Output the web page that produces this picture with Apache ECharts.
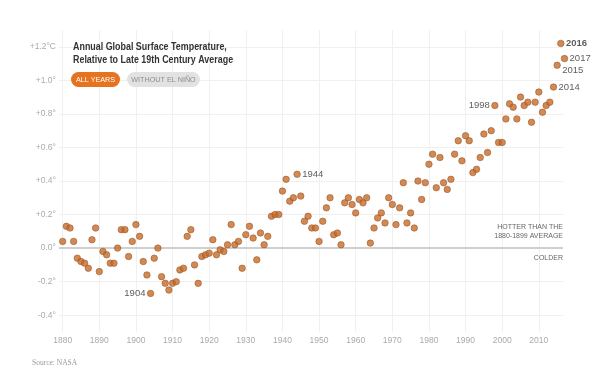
<!DOCTYPE html>
<html>
<head>
<meta charset="utf-8">
<script src="https://cdn.jsdelivr.net/npm/echarts@6/dist/echarts.min.js"></script>
<style>
  html, body { margin: 0; padding: 0; background: #fff; }
  #chart { width: 599px; height: 375px; }
</style>
</head>
<body>
<div id="chart"></div>
<script>
// years 1880..2017, anomaly vs 1880-1899 average
const startYear = 1880;
const anomalies = [
  0.04, 0.13, 0.12, 0.04, -0.06, -0.08, -0.09, -0.12, 0.05, 0.12,
  -0.14, -0.02, -0.04, -0.09, -0.09, 0.00, 0.11, 0.11, -0.05, 0.04,
  0.14, 0.07, -0.08, -0.16, -0.27, -0.06, 0.00, -0.17, -0.21, -0.25,
  -0.21, -0.20, -0.13, -0.12, 0.07, 0.11, -0.10, -0.21, -0.05, -0.04,
  -0.03, 0.05, -0.04, -0.01, -0.02, 0.02, 0.14, 0.02, 0.04, -0.12,
  0.08, 0.13, 0.06, -0.07, 0.09, 0.02, 0.07, 0.19, 0.20, 0.20,
  0.34, 0.41, 0.28, 0.30, 0.44, 0.31, 0.16, 0.19, 0.12, 0.12,
  0.04, 0.16, 0.24, 0.30, 0.08, 0.09, 0.02, 0.27, 0.30, 0.26,
  0.21, 0.29, 0.27, 0.30, 0.03, 0.12, 0.18, 0.21, 0.15, 0.30,
  0.26, 0.14, 0.24, 0.39, 0.15, 0.21, 0.12, 0.40, 0.29, 0.39,
  0.50, 0.56, 0.36, 0.54, 0.39, 0.35, 0.41, 0.56, 0.64, 0.52,
  0.67, 0.64, 0.45, 0.47, 0.54, 0.68, 0.57, 0.70, 0.85, 0.63,
  0.63, 0.77, 0.86, 0.84, 0.77, 0.90, 0.85, 0.87, 0.75, 0.87,
  0.93, 0.81, 0.85, 0.87, 0.96, 1.09, 1.22, 1.13
];
const xTicks = [1880, 1890, 1900, 1910, 1920, 1930, 1940, 1950, 1960, 1970, 1980, 1990, 2000, 2010];
const yTicks = [-0.4, -0.2, 0, 0.2, 0.4, 0.6, 0.8, 1.0, 1.2];
const yTickLabels = ["-0.4°", "-0.2°", "0.0°", "+0.2°", "+0.4°", "+0.6°", "+0.8°", "+1.0°", "+1.2°C"];
const labelled = { 1904: "left", 1944: "right", 1998: "left", 2014: "right", 2015: "right", 2016: "right", 2017: "right" };

const C = { dot: "#c66b2a", dotEdge: "#9a5222", grid: "#f0f0f0", zero: "#cfcfcf", muted: "#aaa", ink: "#333" };
const sans = "'Liberation Sans', Arial, sans-serif";

const points = anomalies.map(function (v, i) {
  const year = startYear + i;
  const d = { value: [year, v] };
  if (labelled[year]) {
    d.label = {
      show: true,
      position: labelled[year],
      distance: 1.5,
      formatter: String(year),
      fontSize: 9.5,
      color: C.ink,
      fontWeight: year === 2016 ? "bold" : "normal",
      offset: year === 2015 ? [0, 5] : [0, 0]
    };
  }
  return d;
});

const chart = echarts.init(document.getElementById("chart"));
chart.setOption({
  animation: false,
  grid: { left: 59, right: 36, top: 30, bottom: 43 },
  xAxis: {
    type: "value",
    min: 1879,
    max: 2016.6,
    axisLine: { show: false },
    axisTick: { show: false, customValues: xTicks },
    axisLabel: {
      customValues: xTicks, color: C.muted, fontSize: 8.5, margin: 4,
      formatter: function (v) { return String(v); }
    },
    splitLine: { show: true, lineStyle: { color: C.grid, width: 1 } }
  },
  yAxis: {
    type: "value",
    min: -0.5,
    max: 1.3,
    axisLine: { show: false },
    axisTick: { show: false, customValues: yTicks },
    axisLabel: {
      customValues: yTicks,
      color: C.muted,
      fontSize: 8.5,
      margin: 3,
      formatter: function (v) {
        const i = yTicks.findIndex(function (t) { return Math.abs(t - v) < 1e-6; });
        return i >= 0 ? yTickLabels[i] : "";
      }
    },
    splitLine: { show: true, lineStyle: { color: C.grid, width: 1 } }
  },
  series: [{
    type: "scatter",
    data: points,
    clip: false,
    symbolSize: 6.5,
    itemStyle: { color: C.dot, borderColor: C.dotEdge, borderWidth: 0.7 },
    markLine: {
      silent: true,
      symbol: "none",
      label: { show: false },
      lineStyle: { color: C.zero, width: 2, type: "solid" },
      data: [[{ coord: [1879, 0] }, { coord: [2016.6, 0] }]],
      z: 1
    },
    z: 3
  }],
  graphic: {
    elements: [
      {
        type: "text", x: 73, y: 41, scaleX: 0.81, z: 100,
        style: {
          text: "Annual Global Surface Temperature,\nRelative to Late 19th Century Average",
          fill: C.ink, font: "bold 11px " + sans, lineHeight: 12.5
        }
      },
      {
        type: "group", x: 71, y: 72, z: 100,
        children: [
          { type: "rect", z: 100, shape: { x: 0, y: 0, width: 49, height: 15, r: 7.5 }, style: { fill: "#e5731f" } },
          { type: "text", z: 101, x: 24.5, y: 7.5, scaleX: 0.9, style: { text: "ALL YEARS", fill: "#ffffff", font: "8px " + sans, align: "center", verticalAlign: "middle" } }
        ]
      },
      {
        type: "group", x: 127, y: 72, z: 100,
        children: [
          { type: "rect", z: 100, shape: { x: 0, y: 0, width: 73, height: 15, r: 7.5 }, style: { fill: "#e2e2e2" } },
          { type: "text", z: 101, x: 36.5, y: 7.5, scaleX: 0.9, style: { text: "WITHOUT EL NIÑO", fill: "#8c8c8c", font: "8px " + sans, align: "center", verticalAlign: "middle" } }
        ]
      },
      { type: "text", z: 100, right: 36, top: 224, style: { text: "HOTTER THAN THE", fill: "#666", fontSize: 7, align: "right" } },
      { type: "text", z: 100, right: 36, top: 233, style: { text: "1880-1899 AVERAGE", fill: "#666", fontSize: 7, align: "right" } },
      { type: "text", z: 100, right: 36, top: 255, style: { text: "COLDER", fill: "#666", fontSize: 7, align: "right" } },
      { type: "text", z: 100, left: 32, top: 359, style: { text: "Source: NASA", fill: "#999", fontSize: 7.5, fontFamily: "'Liberation Serif', serif" } }
    ]
  }
});
</script>
</body>
</html>
